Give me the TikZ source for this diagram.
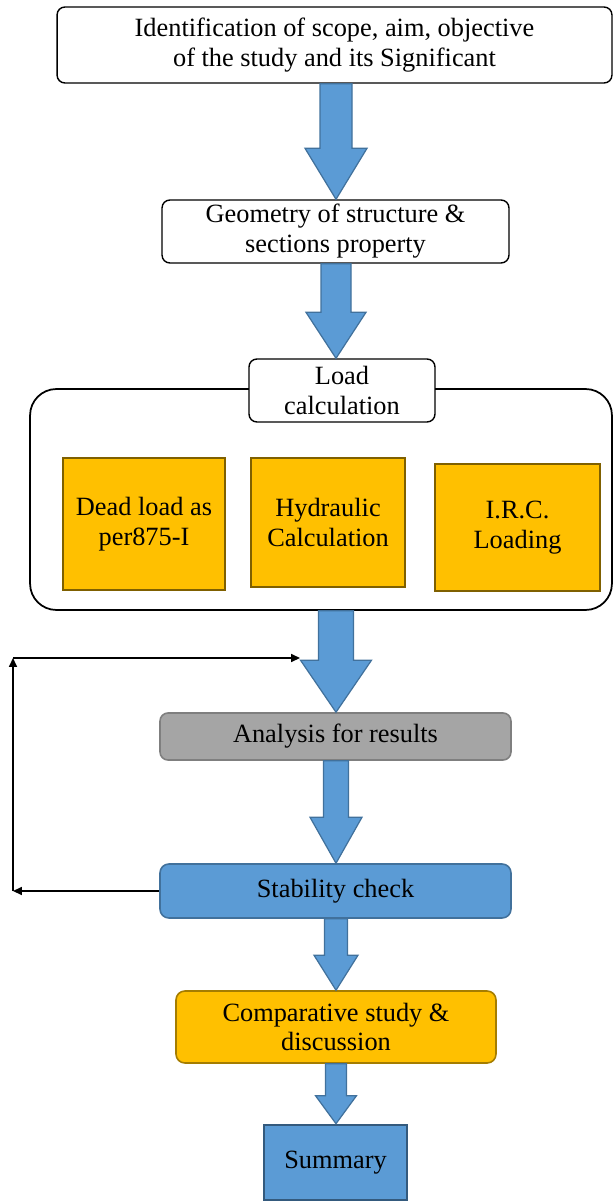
\documentclass[tikz,border=0pt]{standalone}
\usepackage{fontspec}
\setmainfont{Liberation Serif}
\usetikzlibrary{calc,arrows.meta}
\definecolor{boxblue}{HTML}{5B9BD5}
\definecolor{edgeblue}{HTML}{41719C}
\definecolor{boxgold}{HTML}{FFC000}
\definecolor{edgegold}{HTML}{7F6000}
\definecolor{boxgrey}{HTML}{A5A5A5}
\definecolor{edgegrey}{HTML}{7F7F7F}
\newcommand{\blockarrow}[5]{\draw[blockarrow] ($(#1 -| axis)+(-#3,0)$) -- ($(#2 -| axis)+(-#3,-#5)$) -- ($(#2 -| axis)+(-#4,-#5)$) -- (#2 -| axis) -- ($(#2 -| axis)+(#4,-#5)$) -- ($(#2 -| axis)+(#3,-#5)$) -- ($(#1 -| axis)+(#3,0)$) -- cycle;}
\begin{document}
\begin{tikzpicture}[x=0.02cm,y=-0.02cm,
every node/.style={font=\fontsize{15}{17}\selectfont,align=center,inner sep=0pt},
stepbox/.style={draw,fill=white,line width=0.8pt,rounded corners=4.5pt},
loadbox/.style={draw=edgegold,fill=boxgold,line width=1.3pt},
bluebox/.style={draw=edgeblue,fill=boxblue,line width=0.9pt,rounded corners=5pt},
blockarrow/.style={draw=edgeblue,fill=boxblue,line width=0.7pt,line join=miter},
feedback/.style={line width=0.8pt,-{Triangle[length=5pt,width=4.5pt]}}]
\useasboundingbox (0,0) rectangle (613,1202);
\coordinate (axis) at (336,0);
\node[stepbox,minimum width=11.1cm,minimum height=1.52cm] (aim) at (334.5,45) {Identification of scope, aim, objective\\of the study and its Significant};
\node[stepbox,minimum width=6.94cm,minimum height=1.26cm] (geom) at (335.5,231.5) {Geometry of structure \&\\sections property};
\node[draw,line width=1pt,rounded corners=15pt,minimum width=11.64cm,minimum height=4.42cm] (loads) at (321,499.5) {};
\node[stepbox,minimum width=3.72cm,minimum height=1.26cm] (load) at (342,390.5) {Load\\calculation};
\node[loadbox,minimum width=3.24cm,minimum height=2.64cm] (dead) at (144,524) {Dead load as\\per875-I};
\node[loadbox,minimum width=3.08cm,minimum height=2.58cm] (hydr) at (328,522.5) {Hydraulic\\Calculation};
\node[loadbox,minimum width=3.3cm,minimum height=2.54cm] (irc) at (517.5,527.5) {I.R.C.\\Loading};
\node[draw=edgegrey,fill=boxgrey,line width=0.9pt,rounded corners=4.5pt,minimum width=7.02cm,minimum height=0.94cm] (anal) at (335.5,736.5) {Analysis for results};
\node[bluebox,minimum width=7.02cm,minimum height=1.08cm] (stab) at (335.5,891) {Stability check};
\node[draw=edgegold!70!boxgold,fill=boxgold,line width=0.9pt,rounded corners=5pt,minimum width=6.4cm,minimum height=1.44cm] (comp) at (336,1027) {Comparative study \&\\discussion};
\node[draw=edgeblue!80!black,fill=boxblue,line width=1.5pt,minimum width=2.86cm,minimum height=1.5cm] (summ) at (335.5,1162.5) {Summary};
\blockarrow{aim.south}{geom.north}{16}{31}{51}
\blockarrow{geom.south}{load.north}{15}{30}{46}
\blockarrow{loads.south}{anal.north}{17.5}{35.5}{52}
\blockarrow{anal.south}{stab.north}{12.5}{26}{46}
\blockarrow{stab.south}{comp.north}{11.5}{22}{35}
\blockarrow{comp.south}{summ.north}{10.5}{20.5}{28}
\coordinate (corner) at (13,658);
\coordinate (entry) at (300,658);
\draw[feedback] (stab.west) -- (stab.west -| corner);
\draw[feedback] (stab.west -| corner) -- (corner);
\draw[feedback] (corner) -- (entry);
\end{tikzpicture}
\end{document}
